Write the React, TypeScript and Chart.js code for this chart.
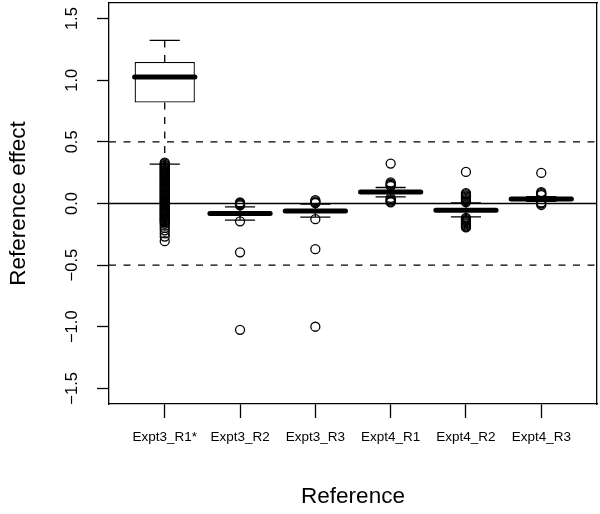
import React, { useEffect, useRef } from 'react';
import { Chart, registerables } from 'chart.js';

Chart.register(...registerables);

// ---- data ----
const categories = ['Expt3_R1*', 'Expt3_R2', 'Expt3_R3', 'Expt4_R1', 'Expt4_R2', 'Expt4_R3'];
const whiskerLow = [0.319, -0.135, -0.11, 0.054, -0.108, 0.018];
const boxQ1 = [0.819, -0.092, -0.071, 0.085, -0.065, 0.029];
const boxMedian = [1.027, -0.081, -0.06, 0.094, -0.054, 0.036];
const boxQ3 = [1.148, -0.07, -0.049, 0.104, -0.042, 0.044];
const whiskerHigh = [1.324, -0.027, -0.004, 0.13, 0.005, 0.055];

const outliersExpt3R1 = [
  0.331, 0.323, 0.314, 0.307, 0.297, 0.29, 0.281, 0.272, 0.264, 0.255, 0.247, 0.238, 0.23, 0.221,
  0.213, 0.204, 0.196, 0.187, 0.179, 0.17, 0.161, 0.153, 0.144, 0.136, 0.127, 0.119, 0.11, 0.102,
  0.093, 0.085, 0.076, 0.068, 0.059, 0.051, 0.042, 0.034, 0.025, 0.017, 0.008, 0.0, -0.009, -0.017,
  -0.026, -0.034, -0.043, -0.051, -0.06, -0.068, -0.077, -0.085, -0.094, -0.102, -0.111, -0.119,
  -0.128, -0.136, -0.145, -0.153, -0.164, -0.18, -0.198, -0.218, -0.243, -0.268, -0.306,
];
const outliersExpt3R2 = [0.008, 0.0, -0.008, -0.015, -0.145, -0.396, -1.025];
const outliersExpt3R3 = [0.027, 0.018, 0.008, 0.003, -0.127, -0.371, -1.0];
const outliersExpt4R1 = [0.324, 0.171, 0.162, 0.152, 0.142, 0.045, 0.034, 0.024, 0.015, 0.009];
const outliersExpt4R2 = [
  0.256, 0.085, 0.076, 0.066, 0.057, 0.047, 0.038, 0.028, 0.019, 0.012,
  -0.116, -0.125, -0.134, -0.143, -0.152, -0.161, -0.17, -0.179, -0.187, -0.194,
];
const outliersExpt4R3 = [0.248, 0.093, 0.085, 0.076, 0.068, 0.008, 0.0, -0.012];
const outlierGroups = [
  outliersExpt3R1, outliersExpt3R2, outliersExpt3R3, outliersExpt4R1, outliersExpt4R2, outliersExpt4R3,
];

const solidRefLines = [0];
const dashedRefLines = [-0.5, 0.5];

const yTickValues = [-1.5, -1.0, -0.5, 0.0, 0.5, 1.0, 1.5];
const yTickLabels = ['\u22121.5', '\u22121.0', '\u22120.5', '0.0', '0.5', '1.0', '1.5'];

const xTitle = 'Reference';
const yTitle = 'Reference effect';

// ---- layout / style constants ----
const X_MIN = 0.26;
const X_MAX = 6.74;
const Y_MIN = -1.627;
const Y_MAX = 1.627;
const BOX_HALF = 0.4;
const STAPLE_HALF = 0.2;
const FONT = '"Liberation Sans", Arial, Helvetica, sans-serif';
const LINE_W = 1.3;

export default function App() {
  const ref = useRef<HTMLCanvasElement>(null);

  useEffect(() => {
    if (!ref.current) return;
    const positions = categories.map((_, i) => i + 1);

    const whiskers: any[] = [];
    const staples: any[] = [];
    const medians: any[] = [];
    positions.forEach((x, i) => {
      whiskers.push({ x, y: boxQ3[i] }, { x, y: whiskerHigh[i] }, { x, y: null });
      whiskers.push({ x, y: boxQ1[i] }, { x, y: whiskerLow[i] }, { x, y: null });
      staples.push({ x: x - STAPLE_HALF, y: whiskerHigh[i] }, { x: x + STAPLE_HALF, y: whiskerHigh[i] }, { x, y: null });
      staples.push({ x: x - STAPLE_HALF, y: whiskerLow[i] }, { x: x + STAPLE_HALF, y: whiskerLow[i] }, { x, y: null });
      medians.push({ x: x - BOX_HALF, y: boxMedian[i] }, { x: x + BOX_HALF, y: boxMedian[i] }, { x, y: null });
    });
    const boxes = positions.map((x, i) => ({ x, y: [boxQ1[i], boxQ3[i]] }));
    const outliers = outlierGroups.flatMap((vals, i) => vals.map((v) => ({ x: positions[i], y: v })));

    const solidData: any[] = [];
    solidRefLines.forEach((v) => solidData.push({ x: X_MIN, y: v }, { x: X_MAX, y: v }, { x: X_MAX, y: null }));
    const dashedData: any[] = [];
    dashedRefLines.forEach((v) => dashedData.push({ x: X_MIN, y: v }, { x: X_MAX, y: v }, { x: X_MAX, y: null }));

    Chart.defaults.color = '#000';
    Chart.defaults.font.family = FONT;

    const chart = new Chart(ref.current, {
      type: 'scatter',
      data: {
        datasets: [
          {
            type: 'line', data: solidData, borderColor: '#000', borderWidth: LINE_W, pointRadius: 0,
            spanGaps: false, order: 10,
          } as any,
          {
            type: 'line', data: dashedData, borderColor: '#000', borderWidth: LINE_W, borderDash: [7, 7.5],
            pointRadius: 0, spanGaps: false, order: 9,
          } as any,
          {
            type: 'bar', data: boxes, backgroundColor: '#fff', borderColor: '#000', borderWidth: LINE_W,
            borderSkipped: false, barPercentage: 0.8, categoryPercentage: 1, order: 8,
          } as any,
          {
            type: 'line', data: whiskers, borderColor: '#000', borderWidth: LINE_W, borderDash: [7, 7.5],
            pointRadius: 0, spanGaps: false, order: 7,
          } as any,
          {
            type: 'line', data: staples, borderColor: '#000', borderWidth: LINE_W, pointRadius: 0,
            spanGaps: false, order: 6,
          } as any,
          {
            type: 'line', data: medians, borderColor: '#000', borderWidth: 5, borderCapStyle: 'round',
            pointRadius: 0, spanGaps: false, order: 5,
          } as any,
          {
            type: 'scatter', data: outliers, pointStyle: 'circle', pointRadius: 4.5, pointBorderWidth: LINE_W,
            pointBackgroundColor: 'rgba(0,0,0,0)', pointBorderColor: '#000', order: 1,
          } as any,
        ],
      },
      options: {
        responsive: false,
        animation: false,
        events: [],
        layout: { autoPadding: false, padding: { top: 3, right: 3, left: 0, bottom: 0 } },
        plugins: { legend: { display: false }, tooltip: { enabled: false } },
        scales: {
          x: {
            type: 'linear', position: 'bottom', min: X_MIN, max: X_MAX, offset: false,
            afterBuildTicks: (s: any) => { s.ticks = positions.map((v) => ({ value: v })); },
            afterFit: (s: any) => { s.height = 110; s.paddingLeft = 0; s.paddingRight = 0; },
            ticks: {
              autoSkip: false, maxRotation: 0, minRotation: 0, padding: 11, color: '#000',
              font: { size: 13.5, family: FONT },
              callback: (_v: any, i: number) => categories[i],
            },
            grid: {
              display: true, offset: false, drawOnChartArea: false, drawTicks: true, tickLength: 14,
              tickColor: '#000', tickWidth: LINE_W,
            },
            border: { display: true, color: '#000', width: LINE_W },
            title: { display: true, text: xTitle, color: '#000', font: { size: 22.5, family: FONT }, padding: { top: 0, bottom: 3.5 } },
          },
          y: {
            type: 'linear', position: 'left', min: Y_MIN, max: Y_MAX,
            afterBuildTicks: (s: any) => { s.ticks = yTickValues.map((v) => ({ value: v })); },
            afterFit: (s: any) => { s.width = 109; s.paddingTop = 0; s.paddingBottom = 0; },
            ticks: {
              autoSkip: false, minRotation: 90, maxRotation: 90, crossAlign: 'center', padding: 8, color: '#000',
              font: { size: 16.5, family: FONT },
              callback: (_v: any, i: number) => yTickLabels[i],
            },
            grid: { display: true, drawOnChartArea: false, drawTicks: true, tickLength: 12, tickColor: '#000', tickWidth: LINE_W },
            border: { display: true, color: '#000', width: LINE_W },
            title: { display: true, text: yTitle, color: '#000', font: { size: 22.5, family: FONT }, padding: { top: 5.5, bottom: 0 } },
          },
          x2: {
            type: 'linear', position: 'top', min: X_MIN, max: X_MAX, offset: false,
            afterFit: (s: any) => { s.height = 0; },
            ticks: { display: false }, grid: { display: false },
            border: { display: true, color: '#000', width: LINE_W },
          },
          y2: {
            type: 'linear', position: 'right', min: Y_MIN, max: Y_MAX,
            afterFit: (s: any) => { s.width = 0; },
            ticks: { display: false }, grid: { display: false },
            border: { display: true, color: '#000', width: LINE_W },
          },
        },
      } as any,
    });
    return () => chart.destroy();
  }, []);

  return (
    <div style={{ position: 'absolute', left: 0, top: 0, width: 600, height: 514, background: '#fff' }}>
      <canvas ref={ref} width={600} height={514} style={{ display: 'block' }} />
    </div>
  );
}
